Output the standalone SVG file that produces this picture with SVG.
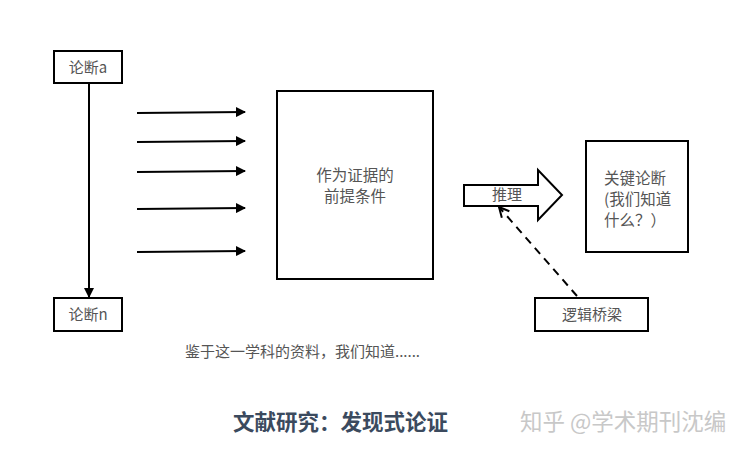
<svg xmlns="http://www.w3.org/2000/svg" width="745" height="454" viewBox="0 0 745 454">
<style>
.box{fill:#fff;stroke:#000;stroke-width:2}
.lbl{font-family:"Noto Sans CJK SC","Liberation Sans",sans-serif;fill:#555;font-size:15px}
.ln{stroke:#000;stroke-width:2;fill:none}
</style>
<defs>
<marker id="ah" viewBox="0 0 10 10" refX="9" refY="5" markerWidth="10" markerHeight="10" markerUnits="userSpaceOnUse" orient="auto">
<path d="M0,0 L10,5 L0,10 z" fill="#000"/>
</marker>
<marker id="oh" viewBox="0 0 12 12" refX="11" refY="6" markerWidth="12" markerHeight="12" markerUnits="userSpaceOnUse" orient="auto">
<path d="M1,1 L11,6 L1,11" fill="none" stroke="#000" stroke-width="2"/>
</marker>
</defs>
<rect width="745" height="454" fill="#fff"/>
<g id="connectors">
<line class="ln" x1="89" y1="83" x2="89" y2="297" marker-end="url(#ah)"/>
<line class="ln" x1="137" y1="113" x2="245" y2="112" marker-end="url(#ah)"/>
<line class="ln" x1="137" y1="142" x2="245" y2="141" marker-end="url(#ah)"/>
<line class="ln" x1="137" y1="172" x2="245" y2="171" marker-end="url(#ah)"/>
<line class="ln" x1="137" y1="209" x2="245" y2="208" marker-end="url(#ah)"/>
<line class="ln" x1="137" y1="252" x2="245" y2="251" marker-end="url(#ah)"/>
<line class="ln" x1="577" y1="296" x2="499" y2="207" stroke-dasharray="8,6" marker-end="url(#oh)"/>
</g>
<g id="node-a">
<rect class="box" x="54" y="51" width="68" height="32"/>
<text class="lbl" x="88" y="73" text-anchor="middle">论断a</text>
</g>
<g id="node-n">
<rect class="box" x="54" y="298" width="68" height="33"/>
<text class="lbl" x="88" y="320" text-anchor="middle">论断n</text>
</g>
<g id="node-premise">
<rect class="box" x="277" y="91" width="156" height="188"/>
<text class="lbl" x="355" y="181" text-anchor="middle" style="font-size:15.5px">作为证据的</text>
<text class="lbl" x="355" y="202" text-anchor="middle" style="font-size:15.5px">前提条件</text>
</g>
<g id="node-infer">
<path class="box" d="M464,185 L538,185 L538,170 L562,195 L538,220 L538,206 L464,206 Z"/>
<text class="lbl" x="507" y="200" text-anchor="middle">推理</text>
</g>
<g id="node-key">
<rect class="box" x="586" y="141" width="102" height="111"/>
<text class="lbl" x="604" y="184" style="font-size:15.5px">关键论断</text>
<text class="lbl" x="604" y="205" style="font-size:15.5px">(我们知道</text>
<text class="lbl" x="604" y="226" style="font-size:15.5px">什么？）</text>
</g>
<g id="node-bridge">
<rect class="box" x="535" y="298" width="113" height="33"/>
<text class="lbl" x="592" y="320" text-anchor="middle">逻辑桥梁</text>
</g>
<text class="lbl" x="185" y="357" style="font-size:15px">鉴于这一学科的资料，我们知道......</text>
<text x="233" y="430" style="font-family:'Noto Sans CJK SC',serif;font-weight:bold;font-size:21.5px;fill:#3b4a5e">文献研究：发现式论证</text>
<text x="520" y="430" style="font-family:'Noto Sans CJK SC',sans-serif;font-size:22.5px;fill:#c8c8c8">知乎 @学术期刊沈编</text>
</svg>
